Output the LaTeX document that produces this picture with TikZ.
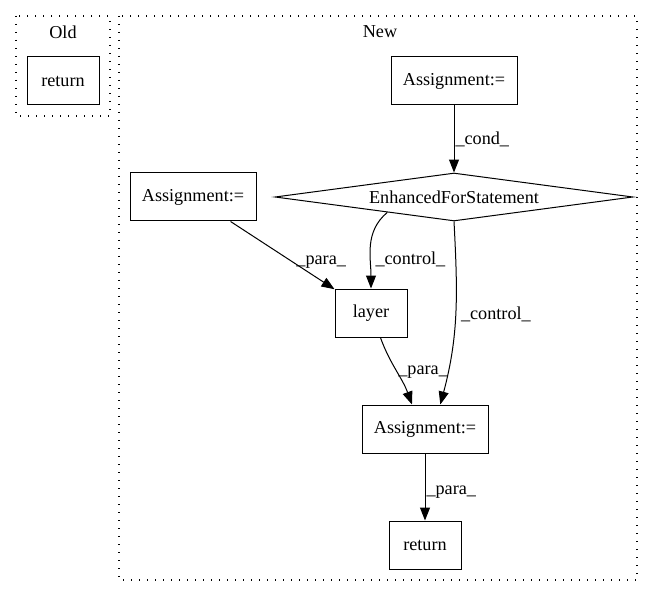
\documentclass[tikz,border=0pt]{standalone}
\usepackage{fontspec}
\setmainfont{Liberation Serif}
\usetikzlibrary{shapes.geometric,arrows.meta}

\tikzset{
  box/.style={draw, rectangle, line width=1pt, minimum height=48pt, inner sep=0pt},
  cond/.style={draw, diamond, line width=1pt, minimum width=358pt, minimum height=48pt, inner sep=0pt, aspect=7.4},
  cluster/.style={line width=1.1pt, dash pattern=on 1.3pt off 6.7pt},
  edge/.style={line width=1pt, -{Triangle[length=13pt,width=10pt]}},
  lbl/.style={inner sep=1pt}
}

\begin{document}
\begin{tikzpicture}[x=1pt, y=-1pt, font=\fontsize{18.2}{21}\selectfont]
    \useasboundingbox (0,0) rectangle (656,596);
%clusters
    \draw[cluster] (16,16) rectangle (110,116);
    \node (old) at (63,32) {Old};
    \draw[cluster] (119,16) rectangle (637,580);
    \node (new) at (380,32) {New};
%old
    \node[box, minimum width=72pt] (oldret) at (63,81) {return};
%new
    \node[box, minimum width=126pt] (asgtop) at (454,81) {Assignment:=};
    \node[cond] (efor) at (454,197) {EnhancedForStatement};
    \node[box, minimum width=126pt] (asgleft) at (193,197) {Assignment:=};
    \node[box, minimum width=72pt] (layer) at (371,313) {layer};
    \node[box, minimum width=126pt] (asgbot) at (425,429) {Assignment:=};
    \node[box, minimum width=72pt] (ret) at (425,545) {return};
%edges
    \draw[edge] (asgtop) -- node[lbl, right] {\_cond\_} (efor);
    \draw[edge] (asgleft) -- node[lbl, right, pos=0.6, xshift=2pt] {\_para\_} (layer);
    \draw[edge] (efor.193) to[out=220, in=90] node[lbl, right, pos=0.66, xshift=4pt] {\_control\_} (layer.north);
    \draw[edge] (efor.south) to[out=-87, in=75] node[lbl, right, pos=0.5, xshift=4pt] {\_control\_} (asgbot.58);
    \draw[edge] (layer.-69) to[out=-70, in=110] node[lbl, right, pos=0.52] {\_para\_} (asgbot.118);
    \draw[edge] (asgbot) -- node[lbl, right, pos=0.58] {\_para\_} (ret);
\end{tikzpicture}
\end{document}
